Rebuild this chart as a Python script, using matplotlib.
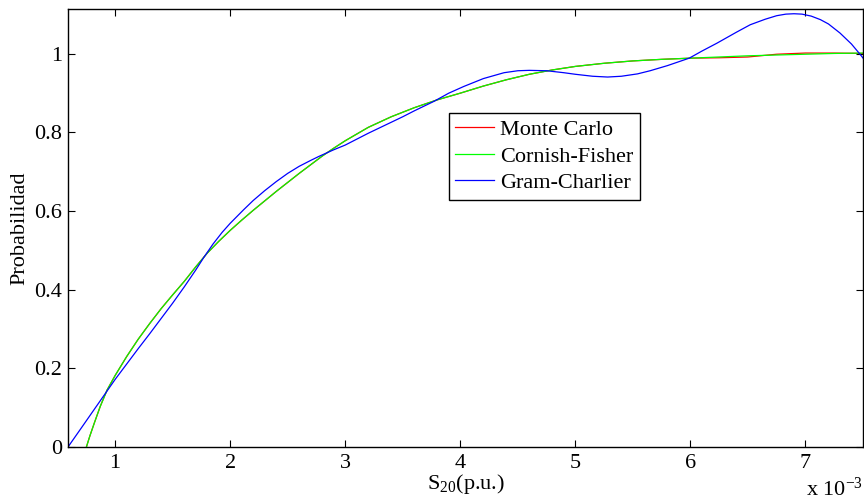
import matplotlib

matplotlib.use("Agg")
import matplotlib.pyplot as plt

plt.rcParams["font.family"] = ["Liberation Serif", "DejaVu Serif"]
plt.rcParams["mathtext.fontset"] = "custom"
plt.rcParams["mathtext.rm"] = "Liberation Serif"
plt.rcParams["mathtext.it"] = "Liberation Serif:italic"

# S20 in units of 1e-3 p.u.
X_CF = [0.75, 0.78, 0.82, 0.87, 0.93, 1.00, 1.10, 1.20, 1.30, 1.40, 1.50, 1.60,
        1.70, 1.80, 1.90, 2.00, 2.10, 2.20, 2.30, 2.40, 2.50, 2.60, 2.70, 2.80,
        2.90, 3.00, 3.20, 3.40, 3.60, 3.80, 4.00, 4.20, 4.40, 4.60, 4.80, 5.00,
        5.25, 5.50, 5.75, 6.00, 6.25, 6.50, 6.75, 7.00, 7.25, 7.50]
Y_CF = [0.000, 0.028, 0.062, 0.103, 0.145, 0.182, 0.230, 0.274, 0.314, 0.352,
        0.387, 0.421, 0.458, 0.493, 0.523, 0.551, 0.577, 0.602, 0.626, 0.650,
        0.673, 0.696, 0.718, 0.740, 0.760, 0.779, 0.813, 0.840, 0.863, 0.883,
        0.900, 0.918, 0.934, 0.948, 0.959, 0.968, 0.976, 0.982, 0.986, 0.989,
        0.992, 0.995, 0.997, 0.999, 1.001, 1.002]

X_MC = X_CF
Y_MC = [0.000, 0.028, 0.062, 0.103, 0.145, 0.182, 0.230, 0.274, 0.314, 0.352,
        0.387, 0.421, 0.458, 0.493, 0.523, 0.551, 0.577, 0.602, 0.626, 0.650,
        0.673, 0.696, 0.718, 0.740, 0.760, 0.779, 0.813, 0.840, 0.863, 0.883,
        0.900, 0.918, 0.934, 0.948, 0.959, 0.968, 0.976, 0.982, 0.986, 0.989,
        0.990, 0.992, 0.999, 1.002, 1.002, 1.001]

X_GC = [0.59, 0.70, 0.80, 0.90, 1.00, 1.10, 1.20, 1.30, 1.40, 1.50, 1.60, 1.70,
        1.77, 1.85, 1.93, 2.00, 2.115, 2.20, 2.30, 2.40, 2.50, 2.60, 2.70, 2.77,
        2.90, 3.00, 3.20, 3.40, 3.50, 3.60, 3.77, 3.90, 4.03, 4.20, 4.38, 4.50,
        4.60, 4.75, 4.90, 5.00, 5.15, 5.28, 5.40, 5.54, 5.65, 5.80, 5.99, 6.10,
        6.23, 6.40, 6.52, 6.65, 6.75, 6.83, 6.90, 6.97, 7.05, 7.13, 7.20, 7.30,
        7.40, 7.48, 7.52]
Y_GC = [0.000, 0.046, 0.088, 0.130, 0.172, 0.211, 0.250, 0.288, 0.327, 0.366,
        0.407, 0.450, 0.482, 0.516, 0.546, 0.569, 0.603, 0.627, 0.652, 0.675,
        0.696, 0.714, 0.729, 0.739, 0.756, 0.768, 0.798, 0.826, 0.840, 0.855,
        0.879, 0.900, 0.917, 0.937, 0.952, 0.957, 0.958, 0.957, 0.952, 0.948,
        0.943, 0.941, 0.943, 0.949, 0.957, 0.970, 0.989, 1.007, 1.027, 1.055,
        1.074, 1.088, 1.097, 1.101, 1.102, 1.101, 1.096, 1.087, 1.076, 1.053,
        1.025, 0.997, 0.982]

X_TICKS = [1, 2, 3, 4, 5, 6, 7]
Y_TICKS = [0, 0.2, 0.4, 0.6, 0.8, 1.0]
Y_TICK_LABELS = ["0", "0.2", "0.4", "0.6", "0.8", "1"]

fig = plt.figure(figsize=(8.64, 5.01), dpi=100)
ax = fig.add_axes([0.0787, 0.1078, 0.9201, 0.8742])

ax.plot(X_MC, Y_MC, color="#ff0000", lw=0.9, label="Monte Carlo")
ax.plot(X_CF, Y_CF, color="#00ff00", lw=0.9, label="Cornish-Fisher")
ax.plot(X_GC, Y_GC, color="#0000ff", lw=0.9, label="Gram-Charlier")

ax.set_xlim(0.59, 7.5)
ax.set_ylim(0, 1.114)
ax.set_xticks(X_TICKS)
ax.set_xticklabels([str(t) for t in X_TICKS])
ax.set_yticks(Y_TICKS)
ax.set_yticklabels(Y_TICK_LABELS)
ax.tick_params(direction="in", length=5, width=0.8, labelsize=16,
               top=True, right=True, color="black")
ax.tick_params(axis="x", pad=5)
ax.tick_params(axis="y", pad=4)
for spine in ax.spines.values():
    spine.set_linewidth(1.0)

ax.set_xlabel(r"$\mathrm{S_{20}}$(p.u.)", fontsize=16, labelpad=-1)
ax.set_ylabel("Probabilidad", fontsize=16, labelpad=4)

fig.text(0.999, 0.0, r"x 10$^{\mathrm{-3}}$", ha="right", va="bottom", fontsize=16)

leg = ax.legend(loc="upper left", bbox_to_anchor=(0.479, 0.7626), fontsize=16,
                fancybox=False, framealpha=1, edgecolor="black",
                handlelength=1.75, handletextpad=0.25, labelspacing=0.26,
                borderpad=0.3, borderaxespad=0)
leg.get_frame().set_linewidth(1.0)

fig.savefig("out.png", dpi=100)
